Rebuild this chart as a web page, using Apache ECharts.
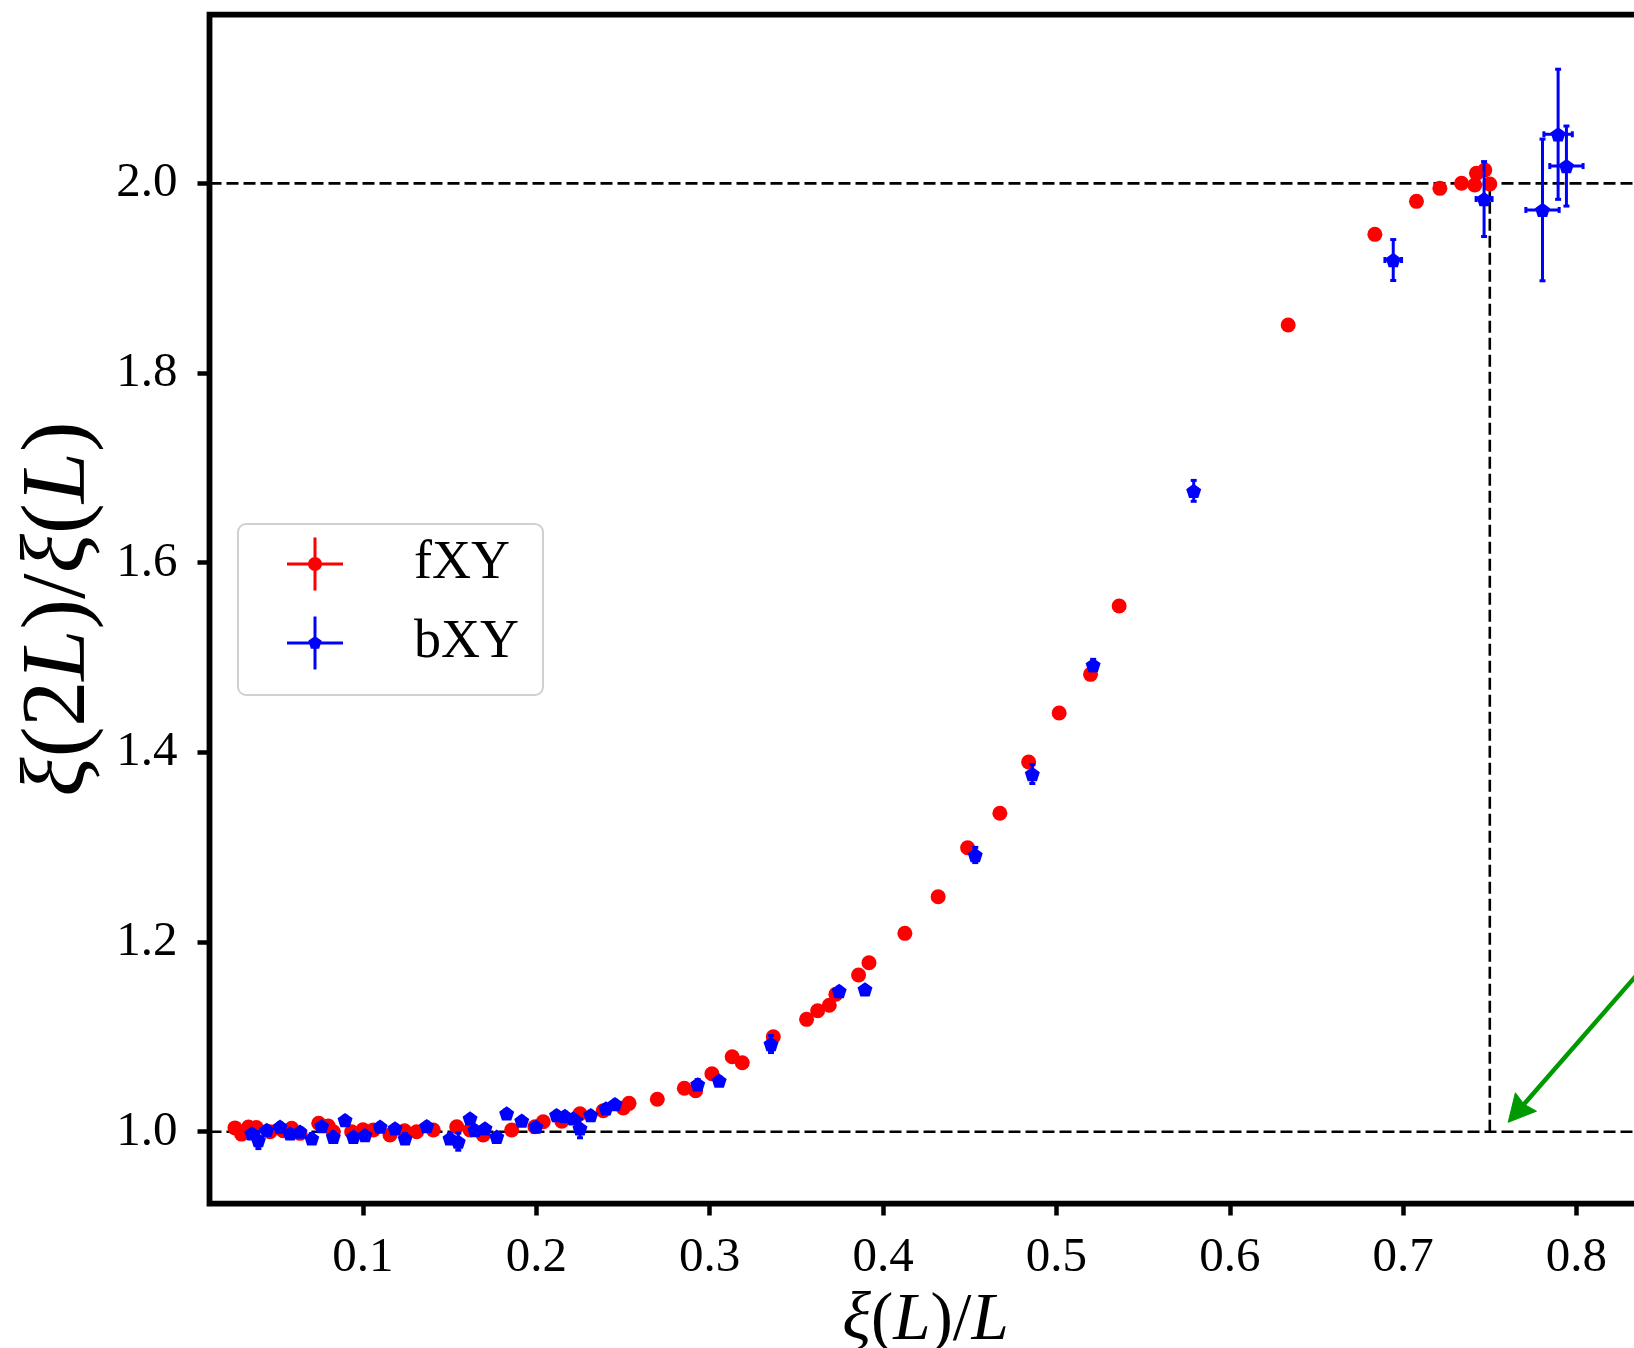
<!DOCTYPE html>
<html>
<head>
<meta charset="utf-8">
<script src="https://cdn.jsdelivr.net/npm/echarts@6/dist/echarts.min.js"></script>
<style>html,body{margin:0;padding:0;background:#fff;}#c{width:1634px;height:1348px;}</style>
</head>
<body>
<div id="c"></div>
<script>
// ---- data ----
const fxyX = [0.0262,0.0300,0.0340,0.0385,0.0464,0.0540,0.0589,0.0637,0.0745,0.0800,0.0829,0.0935,0.1000,0.1060,0.1156,0.1240,0.1310,0.1406,0.1541,0.1618,0.1694,0.1858,0.1992,0.2040,0.2147,0.2252,0.2386,0.2502,0.2535,0.2698,0.2854,0.2919,0.3013,0.3130,0.3188,0.3367,0.3559,0.3623,0.3690,0.3728,0.3859,0.3919,0.4126,0.4318,0.4488,0.4674,0.4840,0.5016,0.5197,0.5362,0.6337,0.6837,0.7077,0.7212,0.7337,0.7413,0.7423,0.7471,0.7500];
const fxyY = [1.0040,0.9975,1.0050,1.0045,1.0000,1.0010,1.0036,0.9983,1.0089,1.0060,1.0000,1.0000,1.0020,1.0018,0.9965,1.0010,1.0000,1.0018,1.0053,1.0018,0.9965,1.0018,1.0053,1.0105,1.0110,1.0190,1.0221,1.0250,1.0299,1.0342,1.0458,1.0432,1.0612,1.0791,1.0728,1.1002,1.1185,1.1276,1.1333,1.1449,1.1652,1.1782,1.2092,1.2478,1.2995,1.3358,1.3899,1.4415,1.4823,1.5544,1.8507,1.9463,1.9811,1.9948,2.0001,1.9983,2.0106,2.0141,1.9994];

const bxyX = [0.0359,0.0397,0.0445,0.0522,0.0580,0.0637,0.0705,0.0762,0.0829,0.0897,0.0945,0.1012,0.1099,0.1185,0.1243,0.1368,0.1502,0.1550,0.1618,0.1646,0.1704,0.1772,0.1829,0.1916,0.1998,0.2117,0.2165,0.2213,0.2252,0.2314,0.2402,0.2454,0.2931,0.3055,0.3354,0.3747,0.3896,0.4532,0.4861,0.5212,0.5792,0.6943,0.7467,0.7804,0.7894,0.7942];
const bxyY = [0.9983,0.9912,1.0018,1.0053,0.9983,1.0000,0.9930,1.0060,0.9947,1.0123,0.9947,0.9965,1.0053,1.0036,0.9930,1.0060,0.9930,0.9895,1.0141,1.0018,1.0036,0.9947,1.0194,1.0116,1.0053,1.0176,1.0166,1.0141,1.0036,1.0176,1.0247,1.0292,1.0500,1.0538,1.0925,1.1484,1.1502,1.2918,1.3772,1.4921,1.6758,1.9192,1.9835,1.9720,2.0518,2.0183];
const bxyXErr = [0.002,0.002,0.002,0.002,0.002,0.002,0.002,0.002,0.002,0.002,0.002,0.002,0.002,0.002,0.002,0.002,0.002,0.002,0.002,0.002,0.002,0.002,0.002,0.002,0.002,0.002,0.002,0.002,0.002,0.002,0.002,0.002,0.002,0.002,0.002,0.002,0.002,0.002,0.002,0.002,0.002,0.0048,0.0046,0.0096,0.0082,0.0096];
const bxyYErr = [0.004,0.009,0.004,0.004,0.004,0.004,0.005,0.004,0.005,0.004,0.004,0.004,0.004,0.004,0.005,0.004,0.005,0.009,0.004,0.004,0.004,0.004,0.004,0.004,0.004,0.004,0.004,0.004,0.010,0.004,0.004,0.004,0.005,0.004,0.009,0.004,0.004,0.008,0.010,0.006,0.011,0.0216,0.0395,0.0747,0.0686,0.0422];

const xTicks = [0.1,0.2,0.3,0.4,0.5,0.6,0.7,0.8];
const yTicks = [1.0,1.2,1.4,1.6,1.8,2.0];
const xRange = [0.0115, 0.8375];
const yRange = [0.9242, 2.178];
const refH = [1.0, 2.0];
const refVX = 0.75;
const arrowFrom = [0.8711, 1.2415];
const arrowTo = [0.7606, 1.0099];

// ---- chart ----
const chart = echarts.init(document.getElementById('c'), null, {renderer: 'canvas'});
const serif = "'Liberation Serif', 'DejaVu Serif', serif";
const pentagon = 'path://M0,-1 L0.9511,-0.309 L0.5878,0.809 L-0.5878,0.809 L-0.9511,-0.309 Z';
const legendCrossCircle = 'path://M0,25 H56 V28 H0 Z M26.5,0 H29.5 V53 H26.5 Z M21,26.5 A7,7 0 1,1 35,26.5 A7,7 0 1,1 21,26.5 Z';
const legendCrossPent = 'path://M0,25 H56 V28 H0 Z M26.5,0 H29.5 V53 H26.5 Z M28,19.5 L34.7,24.3 L32.1,32.2 L23.9,32.2 L21.3,24.3 Z';

const fxyData = fxyX.map((x, i) => [x, fxyY[i]]);
const bxyData = bxyX.map((x, i) => [x, bxyY[i]]);
const bxyErrData = bxyX.map((x, i) => [x, bxyY[i], bxyXErr[i], bxyYErr[i]]);

const dash = [12, 5];
const refSeries = refH.map(h => ({
  type: 'line', silent: true, z: 1, symbol: 'none', animation: false,
  data: [[xRange[0], h], [xRange[1], h]],
  lineStyle: {color: '#000', width: 2.6, type: dash}
}));
refSeries.push({
  type: 'line', silent: true, z: 1, symbol: 'none', animation: false,
  data: [[refVX, refH[0]], [refVX, refH[1]]],
  lineStyle: {color: '#000', width: 2.6, type: dash}
});

chart.setOption({
  animation: false,
  backgroundColor: '#fff',
  grid: {
    left: 209.5, top: 14.6, width: 1432, height: 1189,
    show: true, borderColor: '#000', borderWidth: 5.8, backgroundColor: 'transparent',
    containLabel: false, outerBoundsMode: 'none'
  },
  legend: {
    orient: 'vertical', left: 238, top: 524,
    padding: [13, 24, 25, 49],
    itemWidth: 56, itemHeight: 53, itemGap: 25,
    borderColor: '#d0d0d0', borderWidth: 2, borderRadius: 8, backgroundColor: '#fff',
    textStyle: {fontFamily: serif, fontSize: 54, color: '#000', padding: [0, 0, 0, 66], lineHeight: 53},
    data: [{name: 'fXY', icon: legendCrossCircle}, {name: 'bXY', icon: legendCrossPent}],
    selectedMode: false
  },
  xAxis: {
    type: 'value', min: xRange[0], max: xRange[1],
    axisLine: {show: false},
    splitLine: {show: false},
    axisTick: {show: true, length: 12, inside: false, customValues: xTicks, lineStyle: {color: '#000', width: 4.5}},
    axisLabel: {customValues: xTicks, margin: 30, fontFamily: serif, fontSize: 49, color: '#000', formatter: v => v.toFixed(1)},
    name: '{i|ξ}{u|(}{i|L}{u|)/}{i|L}',
    nameLocation: 'middle', nameGap: 76,
    nameTextStyle: {fontSize: 67, color: '#000', fontFamily: serif, rich: {i: {fontFamily: serif, fontStyle: 'italic', fontSize: 67}, u: {fontFamily: serif, fontSize: 67}}}
  },
  yAxis: {
    type: 'value', min: yRange[0], max: yRange[1],
    axisLine: {show: false},
    splitLine: {show: false},
    axisTick: {show: true, length: 12, inside: false, customValues: yTicks, lineStyle: {color: '#000', width: 4.5}},
    axisLabel: {customValues: yTicks, margin: 32, fontFamily: serif, fontSize: 49, color: '#000', formatter: v => v.toFixed(1)},
    name: '{i|ξ}{u|(2}{i|L}{u|)/}{i|ξ}{u|(}{i|L}{u|)}',
    nameLocation: 'middle', nameGap: 87, nameRotate: 90,
    nameTextStyle: {fontSize: 92, color: '#000', fontFamily: serif, rich: {i: {fontFamily: serif, fontStyle: 'italic', fontSize: 92}, u: {fontFamily: serif, fontSize: 92}}}
  },
  series: refSeries.concat([
    {
      name: 'fXY', type: 'scatter', z: 2, data: fxyData,
      symbol: 'circle', symbolSize: 15,
      itemStyle: {color: '#ff0000', opacity: 1}
    },
    {
      name: 'bXY-err', type: 'custom', z: 3, data: bxyErrData,
      renderItem: function (params, api) {
        const x = api.value(0), y = api.value(1), xe = api.value(2), ye = api.value(3);
        const pb = api.coord([x, y - ye]), pt = api.coord([x, y + ye]);
        const pl = api.coord([x - xe, y]), pr = api.coord([x + xe, y]);
        const st = {stroke: '#0000ff', lineWidth: 3, fill: null};
        const cap = 3;
        return {type: 'group', children: [
          {type: 'line', shape: {x1: pb[0], y1: pb[1], x2: pt[0], y2: pt[1]}, style: st},
          {type: 'line', shape: {x1: pl[0], y1: pl[1], x2: pr[0], y2: pr[1]}, style: st},
          {type: 'line', shape: {x1: pb[0] - cap, y1: pb[1], x2: pb[0] + cap, y2: pb[1]}, style: st},
          {type: 'line', shape: {x1: pt[0] - cap, y1: pt[1], x2: pt[0] + cap, y2: pt[1]}, style: st},
          {type: 'line', shape: {x1: pl[0], y1: pl[1] - cap, x2: pl[0], y2: pl[1] + cap}, style: st},
          {type: 'line', shape: {x1: pr[0], y1: pr[1] - cap, x2: pr[0], y2: pr[1] + cap}, style: st}
        ]};
      },
      silent: true
    },
    {
      name: 'bXY', type: 'scatter', z: 4, data: bxyData,
      symbol: pentagon, symbolSize: [15, 14.3],
      itemStyle: {color: '#0000ff', opacity: 1}
    },
    {
      name: 'arrow', type: 'custom', z: 5, silent: true, clip: false,
      data: [[arrowFrom[0], arrowFrom[1], arrowTo[0], arrowTo[1]]],
      renderItem: function (params, api) {
        const p0 = api.coord([api.value(0), api.value(1)]);
        const p1 = api.coord([api.value(2), api.value(3)]);
        const dx = p0[0] - p1[0], dy = p0[1] - p1[1];
        const len = Math.sqrt(dx * dx + dy * dy);
        const ux = dx / len, uy = dy / len;
        const nx = -uy, ny = ux;
        const headL = 27, headW = 14, notch = 3;
        const back = [p1[0] + ux * headL, p1[1] + uy * headL];
        const c1 = [back[0] + nx * headW, back[1] + ny * headW];
        const c2 = [back[0] - nx * headW, back[1] - ny * headW];
        const nb = [p1[0] + ux * (headL - notch), p1[1] + uy * (headL - notch)];
        const green = '#009a00';
        return {type: 'group', children: [
          {type: 'line', shape: {x1: p0[0], y1: p0[1], x2: nb[0], y2: nb[1]}, style: {stroke: green, lineWidth: 4.5}},
          {type: 'polygon', shape: {points: [p1, c1, nb, c2]}, style: {fill: green, stroke: green, lineWidth: 1}}
        ]};
      }
    }
  ])
});
</script>
</body>
</html>
